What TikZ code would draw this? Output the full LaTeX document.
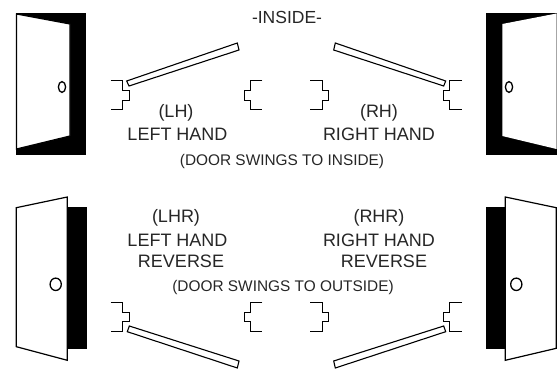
\documentclass[tikz,border=0pt]{standalone}
\usepackage{fontspec}
\setmainfont{Liberation Sans}
\tikzset{
  bigtext/.style={font=\fontsize{18}{20}\selectfont,inner sep=0pt,text=black!85},
  midtext/.style={font=\fontsize{17.5}{20}\selectfont,inner sep=0pt,text=black!85},
  smalltext/.style={font=\fontsize{15.4}{17}\selectfont,inner sep=0pt,text=black!85},
  doorleaf/.style={draw=black,line width=1.2pt,fill=white,line join=miter},
  frameline/.style={draw=black,line width=0.9pt},
  slab/.style={draw=black,line width=1.1pt,fill=white},
  knob/.style={draw=black,line width=1.3pt,fill=white}
}
\begin{document}
\begin{tikzpicture}[x=1pt,y=-1pt]
\useasboundingbox (0,0) rectangle (558,369);
\fill[white] (0,0) rectangle (558,369);
% top doors
\fill[black] (16,13) rectangle (85.5,155);
\path[doorleaf] (16.5,14) -- (70,24) -- (70,136) -- (16.5,149) -- cycle;
\draw[knob] (62,87) ellipse (3.6 and 5.4);
\fill[black] (486,13) rectangle (556.5,155);
\path[doorleaf,draw=none] (502.3,24) -- (556.5,13.5) -- (556.5,149) -- (502.3,136) -- cycle;
\draw[knob] (509,87) ellipse (3.6 and 5.4);
% bottom doors
\fill[black] (67,207) rectangle (86.5,349);
\path[doorleaf] (16.3,207.7) -- (67.3,197) -- (67.3,360.3) -- (16.3,346.7) -- cycle;
\draw[knob] (55.7,284.3) ellipse (5.6 and 6.2);
\fill[black] (486,207) rectangle (505.3,349);
\path[doorleaf] (505.3,197) -- (556.3,207.7) -- (556.3,348.3) -- (505.3,360.3) -- cycle;
\draw[knob] (516.3,284.3) ellipse (5.6 and 6.2);
% top frames
\draw[frameline] (110.7,80.7) -- (122.7,80.7) -- (122.7,90.7) -- (129,90.7) -- (129,100) -- (122.5,100) -- (122.5,109.3) -- (110.7,109.3);
\draw[frameline] (262.3,80.7) -- (250.7,80.7) -- (250.7,90.7) -- (244.3,90.7) -- (244.3,100) -- (250.7,100) -- (250.7,109.3) -- (262.3,109.3);
\draw[frameline] (310.3,80.7) -- (322.3,80.7) -- (322.3,90.7) -- (328.7,90.7) -- (328.7,100) -- (322.3,100) -- (322.3,109.3) -- (310.3,109.3);
\draw[frameline] (462,80.7) -- (449.7,80.7) -- (449.7,90.7) -- (443.7,90.7) -- (443.7,100) -- (449.7,100) -- (449.7,109.3) -- (462,109.3);
% bottom frames
\draw[frameline] (110.7,302.3) -- (122.7,302.3) -- (122.7,312.3) -- (129,312.3) -- (129,321) -- (122.5,321) -- (122.5,331) -- (110.7,331);
\draw[frameline] (262.3,302.3) -- (250.7,302.3) -- (250.7,312.3) -- (244.3,312.3) -- (244.3,321) -- (250.7,321) -- (250.7,331) -- (262.3,331);
\draw[frameline] (310.3,302.3) -- (322.3,302.3) -- (322.3,312.3) -- (328.7,312.3) -- (328.7,321) -- (322.3,321) -- (322.3,331) -- (310.3,331);
\draw[frameline] (462,302.3) -- (449.7,302.3) -- (449.7,312.3) -- (443.7,312.3) -- (443.7,321) -- (449.7,321) -- (449.7,331) -- (462,331);
% slabs
\path[slab] (126.7,81) -- (237.3,43) -- (239,50) -- (129,86) -- cycle;
\path[slab] (335.3,43) -- (445.7,81) -- (443.7,86) -- (333.7,50) -- cycle;
\path[slab] (129.3,326) -- (127.3,331.7) -- (237.3,368) -- (239,361) -- cycle;
\path[slab] (443.7,326) -- (445.7,331.7) -- (335.3,368) -- (333.7,361) -- cycle;
% text
\node[midtext] (inside) at (287,17) {-INSIDE-};
\node[bigtext] (lh) at (176,113) {(LH)};
\node[bigtext] (lhand) at (177.5,134) {LEFT HAND};
\node[bigtext] (rh) at (379,113) {(RH)};
\node[bigtext] (rhand) at (379,134) {RIGHT HAND};
\node[smalltext] (swingin) at (282,162) {(DOOR SWINGS TO INSIDE)};
\node[bigtext] (lhr) at (176,218) {(LHR)};
\node[bigtext] (lhand2) at (177.5,240) {LEFT HAND};
\node[bigtext] (lrev) at (181,261) {REVERSE};
\node[bigtext] (rhr) at (379,218) {(RHR)};
\node[bigtext] (rhand2) at (379,240) {RIGHT HAND};
\node[bigtext] (rrev) at (384,261) {REVERSE};
\node[smalltext] (swingout) at (283,288) {(DOOR SWINGS TO OUTSIDE)};
\end{tikzpicture}
\end{document}
